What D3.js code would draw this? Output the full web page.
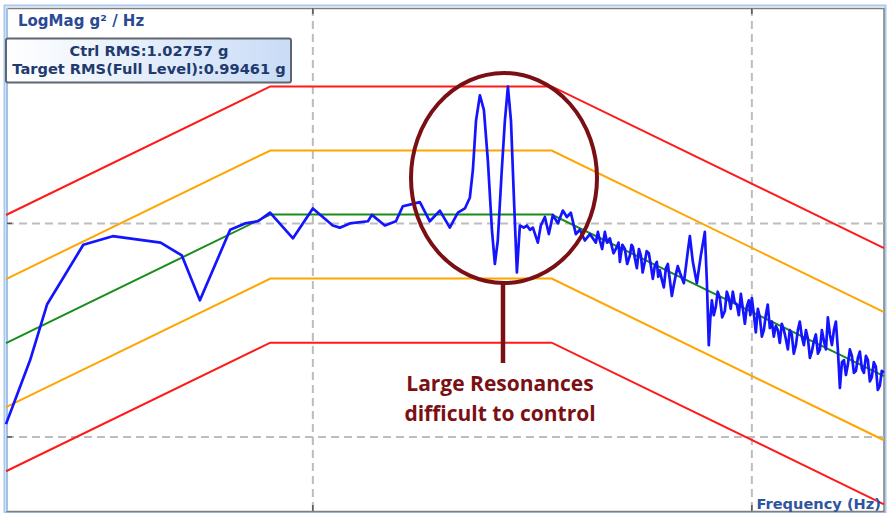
<!DOCTYPE html>
<html>
<head>
<meta charset="utf-8">
<script src="https://cdnjs.cloudflare.com/ajax/libs/d3/7.8.5/d3.min.js"></script>
<style>
  html, body { margin: 0; padding: 0; background: #ffffff; }
  svg { display: block; }
</style>
</head>
<body>
<div id="chart"></div>
<script>
// reference profile (g^2/Hz) at the break frequencies
var profileFreq = [20, 80, 350, 2000];
var profileLevel = [0.000275, 0.0011, 0.0011, 0.0001925];

// tolerance bands in dB around the profile
var alarmDb = [3, -3];
var abortDb = [6, -6];

// measured control spectrum: frequency (Hz) and level (dB re 1 g^2/Hz)
var ctrlFreq = [20, 22.7, 24.8, 30, 35, 45, 50.3, 55.3, 64.8, 70.1, 75, 79.9, 90.1, 100,
  111, 115.2, 121.4, 133.5, 136.3, 145.9, 154.6, 160.3, 168.1, 175.3, 184.7, 194.7, 205.1, 214, 222,
  227.8, 231.5, 235.3, 240.2, 245.3, 250.5, 255.8, 259.8, 263.8, 269.4, 273.8, 278.2, 282.7, 287.2,
  291.6, 296.2, 302.3, 307.3, 312.2, 317.1, 325.5, 330.6, 337.7, 344.8, 352.2, 361.5, 371.1, 379,
  387, 397.3, 405.7, 416.5, 427.6, 441.3, 446, 450.6, 456, 462.6, 468, 474.9, 484, 492.7, 497, 500.5,
  507, 513.8, 520, 527.5, 532, 535.8, 541, 547.1, 553, 558.7, 564, 570.5, 576, 582.6, 589, 594.9,
  601, 607.5, 612, 617.1, 623, 630.2, 637, 643.6, 650, 657.3, 664, 671.2, 678, 685.5, 700, 714.8,
  722.4, 733.8, 749.4, 765.3, 781.5, 789.7, 797.9, 804, 810.7, 819, 827.9, 836, 845.5, 856, 868, 877,
  886.4, 895, 905.1, 914, 924.3, 934, 944.1, 954, 964.1, 974, 984.4, 992, 1000, 1010, 1021, 1032,
  1043, 1054, 1065, 1076, 1087, 1099, 1111, 1122, 1134, 1146, 1158, 1170, 1183, 1195, 1208, 1220,
  1233, 1246, 1260, 1273, 1286, 1300, 1314, 1328, 1342, 1356, 1370, 1385, 1399, 1414, 1429, 1444,
  1459, 1475, 1490, 1506, 1522, 1538, 1554, 1570, 1587, 1604, 1621, 1638, 1655, 1672, 1690, 1708,
  1726, 1744, 1762, 1781, 1800, 1819, 1838, 1857, 1876, 1896, 1916, 1936, 1957, 1977, 1998];
var ctrlDb = [-39.4, -36.4, -33.8, -31.0, -30.6, -30.9, -31.5, -33.6, -30.3, -30.0, -29.9, -29.5, -30.7, -29.3,
  -30.1, -30.2, -30.0, -29.9, -29.6, -30.1, -29.9, -29.2, -29.1, -29.0, -29.9, -29.4, -30.2, -29.5, -29.3,
  -28.8, -27.5, -25.2, -24.0, -24.7, -27.1, -30.3, -31.9, -30.8, -27.5, -25.2, -23.6, -25.2, -28.9,
  -32.3, -30.1, -30.2, -30.1, -30.3, -30.2, -30.9, -30.1, -29.7, -30.5, -29.6, -30.0, -29.4, -29.7,
  -29.5, -30.5, -30.3, -30.8, -30.5, -30.9, -30.4, -30.8, -31.2, -30.4, -30.9, -30.7, -31.4, -31.1, -30.9, -31.8,
  -31.0, -31.2, -31.9, -31.5, -31.0, -31.1, -31.6, -32.1, -31.2, -31.5, -32.3, -31.8, -31.3, -31.4, -32.0, -32.6,
  -32.0, -31.8, -32.5, -32.2, -32.6, -33.0, -32.1, -31.9, -32.6, -33.4, -32.9, -32.4, -32.0, -32.3, -32.8, -31.3,
  -30.6, -31.8, -32.8, -31.5, -30.4, -32.7, -35.7, -34.5, -33.6, -34.3, -33.9, -33.2, -33.5, -34.4, -34.1, -33.2,
  -33.5, -34.0, -33.2, -33.7, -33.8, -34.3, -33.3, -34.0, -34.7, -33.9, -33.6, -34.3, -33.5, -34.2, -35.1, -34.0,
  -34.4, -35.3, -35.0, -34.3, -33.8, -34.9, -34.6, -35.3, -34.8, -35.0, -35.6, -34.7, -35.0, -35.4, -35.9, -35.0,
  -35.2, -36.1, -35.7, -35.0, -34.6, -35.3, -35.7, -35.0, -35.4, -36.3, -36.0, -35.5, -35.2, -36.1, -35.9, -35.0,
  -35.5, -35.9, -34.4, -35.2, -35.7, -35.0, -34.6, -35.9, -37.7, -36.5, -36.4, -37.1, -36.6, -35.9, -36.2, -37.0,
  -36.9, -36.3, -36.0, -36.8, -37.0, -36.2, -36.4, -37.4, -37.2, -36.5, -36.7, -37.8, -37.6, -36.9, -37.0];

var xTicks = [100, 1000];
var yTicks = [0.0001, 0.001];

var yLabel = "LogMag g\u00b2 / Hz";
var xLabel = "Frequency (Hz)";
var rmsLines = ["Ctrl RMS:1.02757 g", "Target RMS(Full Level):0.99461 g"];
var noteLines = ["Large Resonances", "difficult to control"];

// SVG setup
var width = 888,
    height = 513;
var plotLeft = 6, plotRight = 884, plotTop = 8, plotBottom = 511;

var svg = d3.select('#chart').append('svg')
    .attr('width', width)
    .attr('height', height);

var x = d3.scaleLog().domain([20, 2000]).range([plotLeft, plotRight]);
var y = d3.scaleLog().domain([4.5e-5, 1.02e-2]).range([plotBottom, plotTop]);

// outer frame
svg.append('rect')
    .attr('x', 4.5).attr('y', 5.5)
    .attr('width', plotRight - 3).attr('height', plotBottom - 4)
    .attr('fill', 'none')
    .attr('stroke', '#a9c8ee')
    .attr('stroke-width', 2);

svg.append('rect')
    .attr('x', plotLeft + 1).attr('y', plotTop + 0.5)
    .attr('width', plotRight - plotLeft - 1).attr('height', plotBottom - plotTop)
    .attr('fill', '#ffffff')
    .attr('stroke', '#7f7f7f')
    .attr('stroke-width', 1.5);

svg.append('line')
    .attr('x1', plotLeft + 1).attr('x2', plotLeft + 1)
    .attr('y1', plotTop).attr('y2', plotBottom)
    .attr('stroke', '#9fc2ea').attr('stroke-width', 2);

// grid
svg.selectAll('.vgrid')
    .data(xTicks)
    .enter()
    .append('line')
    .attr('class', 'vgrid')
    .attr('x1', function (d) { return x(d); })
    .attr('x2', function (d) { return x(d); })
    .attr('y1', plotTop)
    .attr('y2', plotBottom)
    .attr('stroke', '#bdbdbd')
    .attr('stroke-width', 2)
    .attr('stroke-dasharray', '8,5');

svg.selectAll('.hgrid')
    .data(yTicks)
    .enter()
    .append('line')
    .attr('class', 'hgrid')
    .attr('x1', plotLeft)
    .attr('x2', plotRight)
    .attr('y1', function (d) { return y(d); })
    .attr('y2', function (d) { return y(d); })
    .attr('stroke', '#bdbdbd')
    .attr('stroke-width', 2)
    .attr('stroke-dasharray', '8,5');

// small dark ticks where the grid meets the frame
xTicks.forEach(function (d) {
    svg.append('line').attr('x1', x(d)).attr('x2', x(d)).attr('y1', plotTop).attr('y2', plotTop + 6)
        .attr('stroke', '#555').attr('stroke-width', 1.5);
    svg.append('line').attr('x1', x(d)).attr('x2', x(d)).attr('y1', plotBottom - 6).attr('y2', plotBottom)
        .attr('stroke', '#555').attr('stroke-width', 1.5);
});
yTicks.forEach(function (d) {
    svg.append('line').attr('x1', plotLeft + 1).attr('x2', plotLeft + 6).attr('y1', y(d)).attr('y2', y(d))
        .attr('stroke', '#555').attr('stroke-width', 1.5);
});

// profile and tolerance lines
var line_gen = d3.line()
    .x(function (d) { return x(d[0]); })
    .y(function (d) { return y(d[1]); });

function band(db) {
    return profileFreq.map(function (f, i) {
        return [f, profileLevel[i] * Math.pow(10, db / 10)];
    });
}

var plot = svg.append('g');

abortDb.forEach(function (db) {
    plot.append('path').attr('d', line_gen(band(db)))
        .attr('fill', 'none').attr('stroke', '#ff1a1a').attr('stroke-width', 2);
});
alarmDb.forEach(function (db) {
    plot.append('path').attr('d', line_gen(band(db)))
        .attr('fill', 'none').attr('stroke', '#ffa500').attr('stroke-width', 2);
});
plot.append('path').attr('d', line_gen(band(0)))
    .attr('fill', 'none').attr('stroke', '#1a8c1a').attr('stroke-width', 2);

// control spectrum
var ctrl = ctrlFreq.map(function (f, i) { return [f, Math.pow(10, ctrlDb[i] / 10)]; });
plot.append('path').attr('d', line_gen(ctrl))
    .attr('fill', 'none')
    .attr('stroke', '#1414ff')
    .attr('stroke-width', 2.7)
    .attr('stroke-linejoin', 'round');

// header label
svg.append('text')
    .attr('x', 18).attr('y', 26)
    .style('font-family', 'DejaVu Sans')
    .style('font-weight', 'bold')
    .style('font-size', '15px')
    .attr('fill', '#2b4a94')
    .text(yLabel);

// RMS box
var grad = svg.append('defs').append('linearGradient')
    .attr('id', 'rmsfill').attr('x1', 0).attr('x2', 1).attr('y1', 0).attr('y2', 0);
grad.append('stop').attr('offset', '0%').attr('stop-color', '#ffffff');
grad.append('stop').attr('offset', '100%').attr('stop-color', '#c9dcf6');

svg.append('rect')
    .attr('x', 6).attr('y', 38.5)
    .attr('width', 285).attr('height', 44)
    .attr('rx', 2)
    .attr('fill', 'url(#rmsfill)')
    .attr('stroke', '#5f6670')
    .attr('stroke-width', 2);

svg.selectAll('.rms')
    .data(rmsLines)
    .enter()
    .append('text')
    .attr('class', 'rms')
    .attr('x', 149)
    .attr('y', function (d, i) { return 56 + i * 18; })
    .attr('text-anchor', 'middle')
    .style('font-family', 'DejaVu Sans')
    .style('font-weight', 'bold')
    .style('font-size', '14.6px')
    .attr('fill', '#1f3a6e')
    .text(function (d) { return d; });

// x label
svg.append('text')
    .attr('x', 881).attr('y', 509)
    .attr('text-anchor', 'end')
    .style('font-family', 'DejaVu Sans')
    .style('font-weight', 'bold')
    .style('font-size', '14.6px')
    .attr('fill', '#2f55a0')
    .text(xLabel);

// annotation round the resonances
var noteColor = '#7b1014';
svg.append('ellipse')
    .attr('cx', 504).attr('cy', 178)
    .attr('rx', 93).attr('ry', 105)
    .attr('fill', 'none')
    .attr('stroke', noteColor)
    .attr('stroke-width', 4);
svg.append('line')
    .attr('x1', 503).attr('x2', 503)
    .attr('y1', 283).attr('y2', 363)
    .attr('stroke', noteColor)
    .attr('stroke-width', 4.5);

svg.selectAll('.note')
    .data(noteLines)
    .enter()
    .append('text')
    .attr('class', 'note')
    .attr('x', 500)
    .attr('y', function (d, i) { return 391 + i * 30; })
    .attr('text-anchor', 'middle')
    .style('font-family', 'Open Sans')
    .style('font-weight', 'bold')
    .style('font-size', '21px')
    .attr('fill', noteColor)
    .text(function (d) { return d; });
</script>
</body>
</html>
